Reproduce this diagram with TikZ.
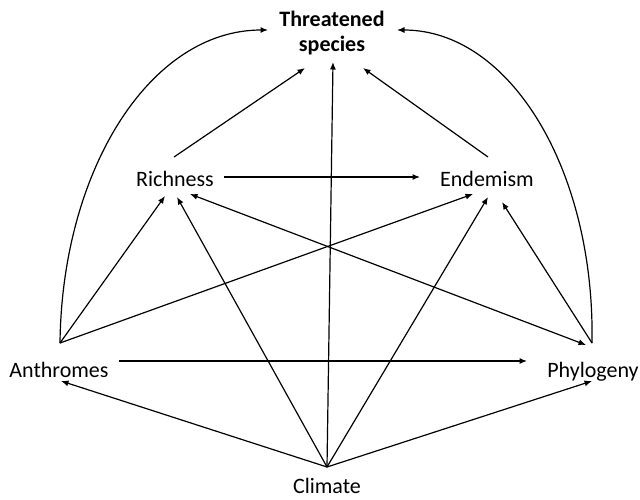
\documentclass[tikz,border=0pt]{standalone}
\usepackage{fontspec}
\setmainfont{Carlito}
\usetikzlibrary{arrows.meta}
\begin{document}
\begin{tikzpicture}[x=1pt,y=-1pt,
  lbl/.style={inner sep=0pt,anchor=base,font=\fontsize{22}{25}\selectfont},
  conn/.style={line width=1.2pt,-{Latex[length=7.5pt,width=6pt]}},
  conn2/.style={line width=1.2pt,{Latex[length=7.5pt,width=6pt]}-{Latex[length=7.5pt,width=6pt]}}]
\useasboundingbox (0,0) rectangle (640,499);
% nodes
\node[lbl,font=\fontsize{22}{25}\selectfont\bfseries] (ts1) at (332,26) {Threatened};
\node[lbl,font=\fontsize{22}{25}\selectfont\bfseries] (ts2) at (332,51) {species};
\node[lbl] (rich) at (175,186) {Richness};
\node[lbl] (end) at (487,186) {Endemism};
\node[lbl] (anth) at (59,377) {Anthromes};
\node[lbl] (phyl) at (593,377) {Phylogeny};
\node[lbl] (clim) at (327,493) {Climate};
% ports
\coordinate (TSl) at (268,30);
\coordinate (TSr) at (397,30);
\coordinate (TSrich) at (305,68);
\coordinate (TSv) at (333,62);
\coordinate (TSend) at (363,68);
\coordinate (Rtop) at (174,157);
\coordinate (Rright) at (224,177);
\coordinate (Ra) at (165,196);
\coordinate (Rc) at (177,197);
\coordinate (Rp) at (190,194);
\coordinate (Etop) at (488,157);
\coordinate (Eleft) at (420,177);
\coordinate (Ea) at (473,194);
\coordinate (Ec) at (488,197);
\coordinate (Ep) at (502,202);
\coordinate (A0) at (60,343);
\coordinate (Aright) at (119,361);
\coordinate (Ac) at (61,381);
\coordinate (P0) at (592,343);
\coordinate (Pleft) at (527,361);
\coordinate (Pc) at (592,381);
\coordinate (Pr) at (586,345);
\coordinate (C0) at (327,467);
% connectors
\draw[conn] (A0) .. controls (62,170) and (150,30) .. (TSl);
\draw[conn] (P0) .. controls (595,170) and (510,30) .. (TSr);
\draw[conn] (Rtop) -- (TSrich);
\draw[conn] (C0) -- (TSv);
\draw[conn] (Etop) -- (TSend);
\draw[conn] (Rright) -- (Eleft);
\draw[conn] (A0) -- (Ra);
\draw[conn] (A0) -- (Ea);
\draw[conn] (C0) -- (Rc);
\draw[conn] (C0) -- (Ec);
\draw[conn] (P0) -- (Ep);
\draw[conn2] (Rp) -- (Pr);
\draw[conn] (Aright) -- (Pleft);
\draw[conn] (C0) -- (Ac);
\draw[conn] (C0) -- (Pc);
\end{tikzpicture}
\end{document}
